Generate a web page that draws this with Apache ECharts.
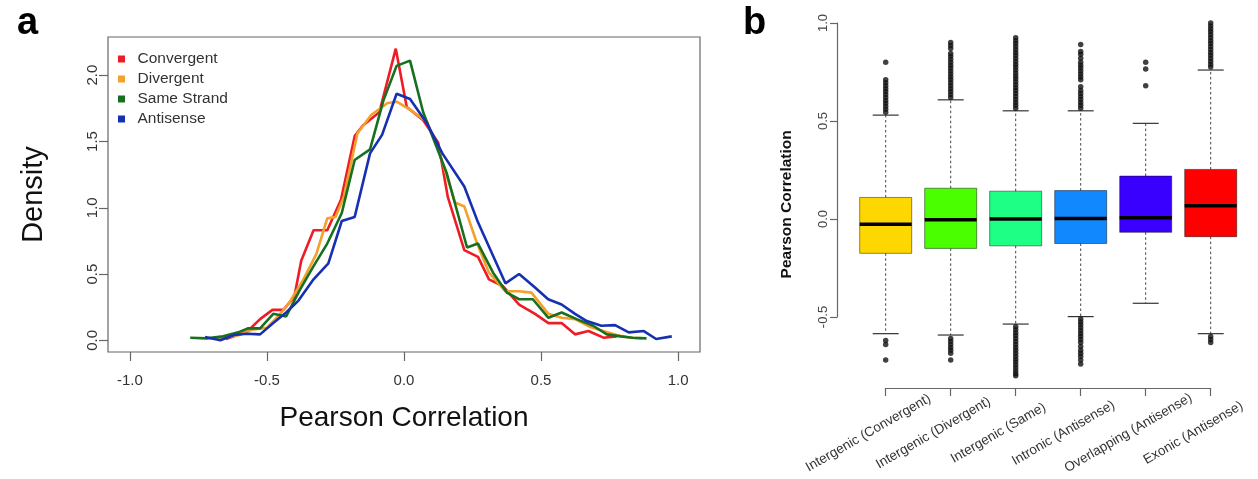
<!DOCTYPE html>
<html>
<head>
<meta charset="utf-8">
<script src="https://cdn.jsdelivr.net/npm/echarts@6/dist/echarts.min.js"></script>
<style>
  html, body { margin: 0; padding: 0; background: #fff; }
  #chart { width: 1258px; height: 479px; }
</style>
</head>
<body>
<div id="chart"></div>
<script>
// ---- panel a: density polygons ----
const convX = [-0.65, -0.62, -0.57, -0.525, -0.48, -0.44, -0.40, -0.375, -0.33, -0.28, -0.23, -0.18, -0.15, -0.09, -0.03, 0.01, 0.07, 0.125, 0.16, 0.22, 0.27, 0.31, 0.36, 0.42, 0.478, 0.527, 0.575, 0.624, 0.673, 0.728, 0.776]
const convY = [0.01, 0.03, 0.07, 0.16, 0.23, 0.23, 0.33, 0.60, 0.83, 0.83, 1.06, 1.54, 1.62, 1.72, 2.20, 1.76, 1.66, 1.49, 1.08, 0.68, 0.63, 0.46, 0.41, 0.27, 0.20, 0.13, 0.13, 0.045, 0.07, 0.02, 0.03]
const divX = [-0.68, -0.60, -0.556, -0.50, -0.46, -0.42, -0.367, -0.32, -0.28, -0.25, -0.22, -0.17, -0.12, -0.06, -0.027, 0.022, 0.083, 0.13, 0.186, 0.22, 0.265, 0.31, 0.37, 0.42, 0.465, 0.527, 0.575, 0.624, 0.68, 0.727, 0.776, 0.825, 0.87]
const divY = [0.01, 0.04, 0.08, 0.095, 0.18, 0.28, 0.46, 0.65, 0.92, 0.93, 1.08, 1.56, 1.70, 1.79, 1.80, 1.74, 1.65, 1.41, 1.04, 1.01, 0.74, 0.51, 0.37, 0.37, 0.36, 0.20, 0.17, 0.16, 0.10, 0.07, 0.04, 0.02, 0.015]
const sameX = [-0.78, -0.72, -0.66, -0.605, -0.57, -0.525, -0.477, -0.43, -0.38, -0.33, -0.28, -0.227, -0.18, -0.124, -0.075, -0.027, 0.022, 0.07, 0.156, 0.23, 0.27, 0.325, 0.375, 0.42, 0.47, 0.527, 0.575, 0.63, 0.69, 0.74, 0.79, 0.835, 0.885]
const sameY = [0.02, 0.015, 0.03, 0.06, 0.09, 0.09, 0.20, 0.18, 0.38, 0.56, 0.73, 0.96, 1.36, 1.44, 1.81, 2.07, 2.11, 1.72, 1.26, 0.70, 0.73, 0.51, 0.36, 0.31, 0.31, 0.17, 0.21, 0.16, 0.11, 0.045, 0.03, 0.02, 0.015]
const antiX = [-0.726, -0.67, -0.62, -0.574, -0.525, -0.477, -0.43, -0.385, -0.33, -0.276, -0.227, -0.18, -0.124, -0.08, -0.027, 0.022, 0.083, 0.14, 0.22, 0.27, 0.32, 0.37, 0.42, 0.477, 0.526, 0.575, 0.624, 0.667, 0.72, 0.77, 0.82, 0.875, 0.92, 0.977]
const antiY = [0.025, 0.0, 0.04, 0.05, 0.045, 0.13, 0.21, 0.30, 0.46, 0.58, 0.90, 0.93, 1.41, 1.55, 1.86, 1.82, 1.64, 1.41, 1.16, 0.89, 0.66, 0.43, 0.50, 0.40, 0.31, 0.27, 0.20, 0.145, 0.11, 0.115, 0.06, 0.07, 0.01, 0.03]
const seriesNames = ['Convergent', 'Divergent', 'Same Strand', 'Antisense']
const lineColors = ['#EE1C25', '#F5A02A', '#17701F', '#1530B0']
const xTicksA = [-1, -0.5, 0, 0.5, 1]
const yTicksA = [0, 0.5, 1, 1.5, 2]

// ---- panel b: boxplots ----
const boxCats = ['Intergenic (Convergent)', 'Intergenic (Divergent)', 'Intergenic (Same)', 'Intronic (Antisense)', 'Overlapping (Antisense)', 'Exonic (Antisense)']
const boxColors = ['#FFD700', '#49FF00', '#1EFF86', '#1288FF', '#3A00FF', '#FF0000']
const whiskerLow = [-0.585, -0.592, -0.536, -0.498, -0.43, -0.585]
const q1 = [-0.175, -0.15, -0.137, -0.125, -0.068, -0.09]
const median = [-0.027, -0.004, 0.0, 0.003, 0.007, 0.068]
const q3 = [0.11, 0.157, 0.142, 0.145, 0.219, 0.253]
const whiskerHigh = [0.53, 0.608, 0.552, 0.552, 0.488, 0.76]
const outConv = [0.545, 0.56, 0.575, 0.59, 0.605, 0.62, 0.635, 0.65, 0.665, 0.68, 0.695, 0.71, 0.80, -0.62, -0.64, -0.72]
const outDiv = [0.62, 0.635, 0.65, 0.665, 0.68, 0.695, 0.71, 0.725, 0.74, 0.755, 0.77, 0.785, 0.80, 0.815, 0.83, 0.845, 0.87, 0.885, 0.90, -0.61, -0.625, -0.64, -0.655, -0.67, -0.685, -0.72]
const outSame = [0.565, 0.58, 0.595, 0.61, 0.625, 0.64, 0.655, 0.67, 0.685, 0.70, 0.715, 0.73, 0.745, 0.76, 0.775, 0.79, 0.805, 0.82, 0.835, 0.85, 0.865, 0.88, 0.895, 0.91, 0.925,
  -0.55, -0.565, -0.58, -0.595, -0.61, -0.625, -0.64, -0.655, -0.67, -0.685, -0.70, -0.715, -0.73, -0.745, -0.76, -0.775, -0.79, -0.80]
const outIntron = [0.565, 0.58, 0.595, 0.61, 0.625, 0.64, 0.655, 0.675, 0.71, 0.725, 0.74, 0.755, 0.77, 0.785, 0.80, 0.82, 0.84, 0.855, 0.89,
  -0.51, -0.525, -0.54, -0.555, -0.57, -0.585, -0.60, -0.615, -0.63, -0.65, -0.67, -0.685, -0.70, -0.72, -0.74]
const outOverlap = [0.68, 0.765, 0.80]
const outExon = [0.775, 0.79, 0.805, 0.82, 0.835, 0.85, 0.865, 0.88, 0.895, 0.91, 0.925, 0.94, 0.955, 0.97, 0.985, 1.0, -0.60, -0.615, -0.63]

const FONT = '"Liberation Sans", Arial, sans-serif'
const AXIS = '#666'

const chart = echarts.init(document.getElementById('chart'))

const lineData = [[convX, convY], [divX, divY], [sameX, sameY], [antiX, antiY]]
const outLists = [outConv, outDiv, outSame, outIntron, outOverlap, outExon]

const lineSeries = seriesNames.map((name, k) => ({
  name,
  type: 'line',
  xAxisIndex: 0, yAxisIndex: 0,
  data: lineData[k][0].map((x, j) => [x, lineData[k][1][j]]),
  showSymbol: false,
  lineStyle: { width: 2.6, color: lineColors[k] },
  itemStyle: { color: lineColors[k] },
  silent: true
}))

function renderBox(params, api) {
  const i = api.value(0)
  const lo = api.coord([i, api.value(1)])
  const b1 = api.coord([i, api.value(2)])
  const md = api.coord([i, api.value(3)])
  const b3 = api.coord([i, api.value(4)])
  const hi = api.coord([i, api.value(5)])
  const bw = api.size([1, 0])[0] * 0.8
  const x = lo[0]
  const cap = bw / 4
  const dash = { stroke: '#444', lineWidth: 1, lineDash: [2.5, 2.5] }
  const solid = { stroke: '#333', lineWidth: 1.2 }
  return {
    type: 'group',
    children: [
      { type: 'line', shape: { x1: x, y1: b3[1], x2: x, y2: hi[1] }, style: dash },
      { type: 'line', shape: { x1: x, y1: b1[1], x2: x, y2: lo[1] }, style: dash },
      { type: 'line', shape: { x1: x - cap, y1: hi[1], x2: x + cap, y2: hi[1] }, style: solid },
      { type: 'line', shape: { x1: x - cap, y1: lo[1], x2: x + cap, y2: lo[1] }, style: solid },
      { type: 'rect', shape: { x: x - bw / 2, y: b3[1], width: bw, height: b1[1] - b3[1] },
        style: { fill: boxColors[i], stroke: 'rgba(0,0,0,0.45)', lineWidth: 1 } },
      { type: 'line', shape: { x1: x - bw / 2, y1: md[1], x2: x + bw / 2, y2: md[1] }, style: { stroke: '#000', lineWidth: 3.5 } }
    ]
  }
}

const option = {
  animation: false,
  textStyle: { fontFamily: FONT },
  title: [
    { text: 'a', left: 12, top: 0, textStyle: { fontSize: 38, fontWeight: 'bold', color: '#000', fontFamily: FONT } },
    { text: 'b', left: 738, top: 0, textStyle: { fontSize: 38, fontWeight: 'bold', color: '#000', fontFamily: FONT } }
  ],
  legend: {
    data: seriesNames,
    orient: 'vertical',
    left: 113, top: 46,
    itemWidth: 22, itemHeight: 7, itemGap: 4,
    icon: 'path://M0,0h10v10h-10z',
    symbolKeepAspect: true,
    textStyle: { fontSize: 15.5, color: '#333', lineHeight: 16, fontFamily: FONT },
    selectedMode: false
  },
  grid: [
    { left: 108, top: 37, width: 592, height: 315, show: true, borderColor: AXIS, borderWidth: 1.2, backgroundColor: 'transparent' },
    { left: 853.2, top: 23, width: 390, height: 362.6 },
    { left: 837, top: 23, width: 10, height: 294 },
    { left: 885.7, top: 300, width: 325, height: 88 }
  ],
  xAxis: [
    {
      gridIndex: 0, type: 'value', min: -1.08, max: 1.08,
      axisLine: { show: false, onZero: false },
      axisTick: { show: true, customValues: xTicksA, length: 9, lineStyle: { color: AXIS, width: 1.2 } },
      axisLabel: { customValues: xTicksA, formatter: v => v.toFixed(1), fontSize: 15, color: '#333', margin: 21 },
      splitLine: { show: false },
      name: 'Pearson Correlation', nameLocation: 'middle', nameGap: 52,
      nameTextStyle: { fontSize: 28, color: '#111' }
    },
    { gridIndex: 1, type: 'category', data: boxCats, show: false },
    { gridIndex: 2, type: 'value', show: false },
    {
      gridIndex: 3, type: 'value', min: 1, max: 6, interval: 1,
      axisLine: { show: true, onZero: false, lineStyle: { color: AXIS, width: 1.2 } },
      axisTick: { show: true, length: 8, lineStyle: { color: AXIS, width: 1.2 } },
      axisLabel: {
        formatter: v => boxCats[Math.round(v) - 1] || '',
        rotate: 30, align: 'center', verticalAlign: 'middle',
        margin: 35, padding: [0, 40, 0, 0],
        fontSize: 13.5, color: '#333'
      },
      splitLine: { show: false }
    }
  ],
  yAxis: [
    {
      gridIndex: 0, type: 'value', min: -0.088, max: 2.288,
      axisLine: { show: false, onZero: false },
      axisTick: { show: true, customValues: yTicksA, length: 9, lineStyle: { color: AXIS, width: 1.2 } },
      axisLabel: { customValues: yTicksA, formatter: v => v.toFixed(1), rotate: 90, fontSize: 15, color: '#333', margin: 8 },
      splitLine: { show: false },
      name: 'Density', nameLocation: 'middle', nameGap: 60,
      nameTextStyle: { fontSize: 29, color: '#111' }
    },
    {
      gridIndex: 1, type: 'value', min: -0.85, max: 1.0,
      axisLine: { show: false, onZero: false }, axisTick: { show: false }, axisLabel: { show: false }, splitLine: { show: false },
      name: 'Pearson Correlation', nameLocation: 'middle', nameGap: 58,
      nameTextStyle: { fontSize: 15.5, fontWeight: 'bold', color: '#111' }
    },
    {
      gridIndex: 2, type: 'value', min: -0.5, max: 1, interval: 0.5,
      axisLine: { show: true, onZero: false, lineStyle: { color: AXIS, width: 1.2 } },
      axisTick: { show: true, length: 7, lineStyle: { color: AXIS, width: 1.2 } },
      axisLabel: { formatter: v => v.toFixed(1), rotate: 90, fontSize: 13, color: '#444', margin: 7 },
      splitLine: { show: false }
    },
    { gridIndex: 3, type: 'value', show: false }
  ],
  series: [
    ...lineSeries,
    {
      type: 'custom',
      xAxisIndex: 1, yAxisIndex: 1,
      renderItem: renderBox,
      encode: { x: 0, y: [1, 2, 3, 4, 5] },
      data: boxCats.map((c, i) => [i, whiskerLow[i], q1[i], median[i], q3[i], whiskerHigh[i]]),
      silent: true
    },
    {
      type: 'scatter',
      xAxisIndex: 1, yAxisIndex: 1,
      symbolSize: 5.5,
      itemStyle: { color: '#111' },
      data: outLists.flatMap((arr, i) => arr.map(v => [i, v])),
      silent: true
    }
  ]
}

chart.setOption(option)
</script>
</body>
</html>
